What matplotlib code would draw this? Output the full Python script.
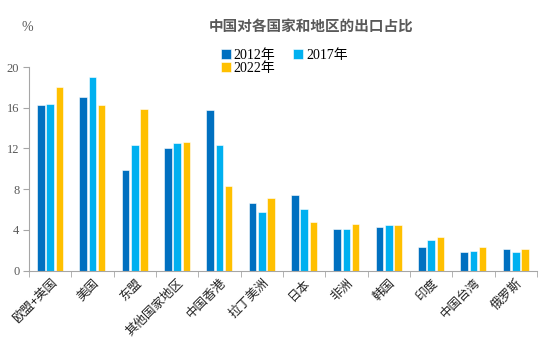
import matplotlib.pyplot as plt
import numpy as np

regions = ['欧盟+英国', '美国', '东盟', '其他国家地区', '中国香港', '拉丁美洲',
           '日本', '非洲', '韩国', '印度', '中国台湾', '俄罗斯']
share_2012 = [16.3, 17.1, 9.9, 12.0, 15.8, 6.6, 7.4, 4.1, 4.3, 2.3, 1.8, 2.1]
share_2017 = [16.4, 19.0, 12.3, 12.5, 12.3, 5.8, 6.0, 4.1, 4.5, 3.0, 1.9, 1.85]
share_2022 = [18.0, 16.3, 15.9, 12.6, 8.3, 7.1, 4.8, 4.6, 4.5, 3.3, 2.3, 2.1]
yticks = [0, 4, 8, 12, 16, 20]

cjk = ['Noto Sans CJK SC', 'DejaVu Sans']
serif_cjk = ['Liberation Serif', 'Noto Sans CJK SC']
grey = '#595959'

fig = plt.figure(figsize=(5.5, 3.52), dpi=100)
ax = fig.add_axes([0.0527, 0.2315, 0.9236, 0.578])

x = np.arange(len(regions))
w = 0.175
step = 0.22
b12 = ax.bar(x - step, share_2012, w, color='#0070C0', edgecolor='white', linewidth=0.4)
b17 = ax.bar(x, share_2017, w, color='#00B0F0', edgecolor='white', linewidth=0.4)
b22 = ax.bar(x + step, share_2022, w, color='#FFC000', edgecolor='white', linewidth=0.4)

ax.set_xlim(-0.5, len(regions) - 0.5)
ax.set_ylim(0, 20)
ax.set_yticks(yticks)
ax.set_yticklabels([str(v) for v in yticks], family='Liberation Serif', fontsize=9, color=grey)
ax.set_xticks(x)
ax.set_xticklabels(regions, rotation=45, ha='right', rotation_mode='anchor',
                   family=cjk, fontsize=9, color='#222222')
ax.tick_params(axis='x', length=0, pad=4)
ax.set_xticks(np.arange(len(regions) + 1) - 0.5, minor=True)
ax.tick_params(axis='x', which='minor', length=4, color='#A6A6A6', direction='out')
ax.tick_params(axis='y', length=4, color='#A6A6A6', direction='out', pad=3)

for s in ['top', 'right']:
    ax.spines[s].set_visible(False)
for s in ['left', 'bottom']:
    ax.spines[s].set_color('#A6A6A6')
    ax.spines[s].set_linewidth(0.8)

fig.text(0.04, 0.922, '%', family='Liberation Serif', fontsize=10, color=grey, ha='left', va='center')
fig.text(0.565, 0.928, '中国对各国家和地区的出口占比', family=cjk, fontsize=10.5,
         fontweight='bold', color=grey, ha='center', va='center')

# row 1: 2012, 2017 ; row 2: 2022
fig.legend([b12, b22, b17], ['2012年', '2022年', '2017年'],
           loc='upper left', bbox_to_anchor=(0.387, 0.885), ncol=2, frameon=False,
           prop={'family': serif_cjk, 'size': 10}, handlelength=0.7, handleheight=0.7,
           handletextpad=0.2, columnspacing=1.3, labelspacing=0.0, borderpad=0.1)

plt.savefig('out.png', dpi=100)
